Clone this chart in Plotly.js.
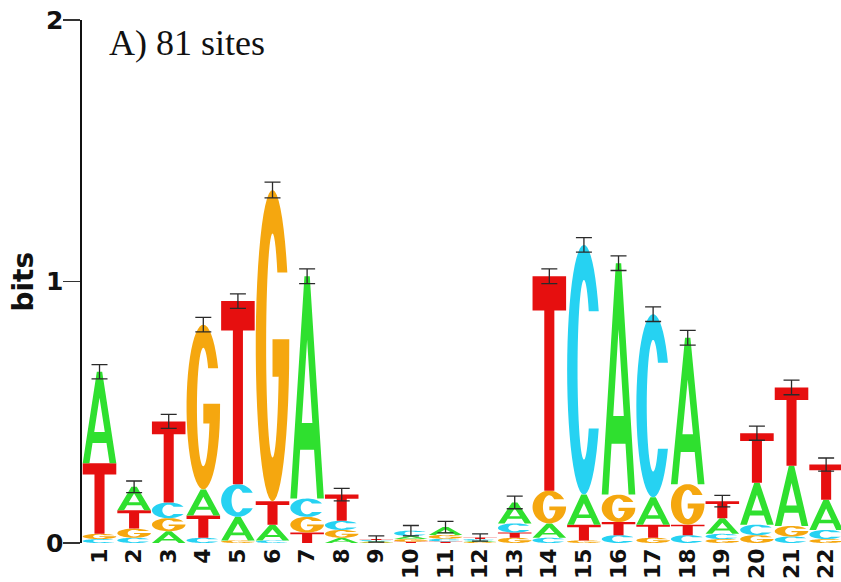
<!DOCTYPE html>
<html><head><meta charset="utf-8">
<script src="https://cdn.plot.ly/plotly-3.0.1.min.js"></script>
<style>html,body{margin:0;padding:0;background:#fff}#chart{width:841px;height:582px}</style>
</head><body><div id="chart"></div>
<script>
// ---- data (bits per letter at each position) ----
const positions = [1,2,3,4,5,6,7,8,9,10,11,12,13,14,15,16,17,18,19,20,21,22];
const tickLabels = ['1','2','3','4','5','6','7','8','9','10','11','12','13','14','15','16','17','18','19','20','21','22'];
const bitsA = [0.35,0.09,0.045,0.10,0.09,0.06,0.85,0.02,0.004,0.012,0.03,0.005,0.08,0.055,0.115,0.885,0.105,0.56,0.06,0.16,0.23,0.115];
const bitsC = [0.015,0.02,0.06,0.02,0.125,0.01,0.07,0.035,0.004,0.02,0.01,0.006,0.035,0.02,0.955,0.03,0.70,0.03,0.02,0.04,0.025,0.035];
const bitsG = [0.02,0.035,0.05,0.63,0.01,1.19,0.06,0.03,0.003,0.01,0.015,0.004,0.02,0.125,0.01,0.105,0.02,0.155,0.015,0.03,0.04,0.015];
const bitsT = [0.27,0.07,0.31,0.085,0.70,0.09,0.04,0.10,0.004,0.005,0.006,0.006,0.02,0.82,0.06,0.05,0.05,0.04,0.065,0.19,0.30,0.135];
const errBars = [0.027,0.022,0.027,0.028,0.028,0.03,0.028,0.024,0.012,0.02,0.022,0.014,0.024,0.028,0.028,0.028,0.028,0.028,0.022,0.027,0.028,0.025];
const yTicks = [0,1,2];
const yTickLabels = ['0','1','2'];
const titleText = 'A) 81 sites';
const yTitle = 'bits';

const colors = {A:'#2fe02f', C:'#26d2f2', G:'#f5a70f', T:'#e60f0f'};

// ---- glyph outlines in a unit box (u: 0..1 left->right, v: 0..1 bottom->top) ----
function arc(cx,cy,rx,ry,a0,a1,n){
  const pts=[];
  for(let i=0;i<=n;i++){
    const a=(a0+(a1-a0)*i/n)*Math.PI/180;
    pts.push([cx+rx*Math.cos(a), cy+ry*Math.sin(a)]);
  }
  return pts;
}
function glyph(l){
  const irx=0.19, iry=0.36, term=28;
  const phi=Math.asin(0.5*Math.sin(term*Math.PI/180)/iry)*180/Math.PI;
  if(l==='T') return [[[0,1],[1,1],[1,0.84],[0.65,0.84],[0.65,0],[0.35,0],[0.35,0.84],[0,0.84]]];
  if(l==='A'){
    const s=0.42, t=0.2, cb0=0.22, cb1=0.34;
    const outer=[[0,0],[s,1],[1-s,1],[1,0],[1-t,0],[1-t-s*cb0,cb0],[t+s*cb0,cb0],[t,0]];
    const apex=(1-2*t)/(2*s);
    const hole=[[1-t-s*cb1,cb1],[0.5,apex],[t+s*cb1,cb1]];
    return [outer,hole];
  }
  if(l==='C'){
    const outer=arc(0.5,0.5,0.5,0.5,term,360-term,48);
    const inner=arc(0.5,0.5,irx,iry,-phi,-(360-phi),48);
    return [outer.concat(inner)];
  }
  if(l==='G'){
    const outer=arc(0.5,0.5,0.5,0.5,term,352,48);
    const mid=[[1,0.52],[0.5,0.52],[0.5,0.40],[0.69,0.40]];
    const inner=arc(0.5,0.5,irx,iry,-16,-(360-phi),44);
    return [outer.concat(mid,inner)];
  }
}
function glyphPath(l,xc,y0,h,w){
  return glyph(l).map(sub=>'M'+sub.map(p=>(xc-w/2+p[0]*w).toFixed(4)+','+(y0+p[1]*h).toFixed(5)).join('L')+'Z').join(' ');
}

// ---- build stacked letters ----
const shapes=[];
const totals=[];
positions.forEach((pos,i)=>{
  const stack=[['A',bitsA[i]],['C',bitsC[i]],['G',bitsG[i]],['T',bitsT[i]]].sort((a,b)=>a[1]-b[1]);
  let y=0;
  stack.forEach(([l,h])=>{
    if(h>0){
      shapes.push({type:'path',xref:'x',yref:'y',path:glyphPath(l,pos,y,h,0.97),
        fillcolor:colors[l],line:{width:0},layer:'below',fillrule:'evenodd'});
    }
    y+=h;
  });
  totals.push(y);
});

const errTrace={
  type:'scatter',mode:'markers',x:positions,y:totals,
  marker:{size:1,color:'rgba(0,0,0,0)'},hoverinfo:'skip',
  error_y:{type:'data',array:errBars,symmetric:true,color:'#2a2a2a',thickness:1.3,width:8}
};

const layout={
  width:841,height:582,
  margin:{l:82,r:0,t:20,b:39},
  paper_bgcolor:'#ffffff',plot_bgcolor:'#ffffff',
  showlegend:false,
  xaxis:{range:[0.494,22.43],tickmode:'array',tickvals:positions,ticktext:tickLabels,tickangle:-90,
    tickfont:{family:'DejaVu Sans',size:22,weight:'bold',color:'#111'},
    showline:false,showgrid:false,zeroline:false,ticks:''},
  yaxis:{range:[0,2],tickmode:'array',tickvals:yTicks,ticktext:yTickLabels,
    ticks:'outside',ticklen:17,tickwidth:1.5,tickcolor:'#333',ticklabelstandoff:-6,
    showline:true,linewidth:2.5,linecolor:'#111',showgrid:false,zeroline:false,
    tickfont:{family:'DejaVu Sans',size:25,weight:'bold',color:'#111'}},
  shapes:shapes,
  annotations:[
    {text:titleText,xref:'paper',yref:'paper',x:0.033,y:0.998,xanchor:'left',yanchor:'top',showarrow:false,
     font:{family:'Liberation Serif, Times New Roman, serif',size:36,color:'#111'}},
    {text:yTitle,xref:'paper',yref:'y',x:-0.0777,y:1,xanchor:'center',yanchor:'middle',textangle:-90,showarrow:false,
     font:{family:'DejaVu Sans',size:28,weight:'bold',color:'#111'}}
  ]
};
Plotly.newPlot('chart',[errTrace],layout,{displayModeBar:false,staticPlot:true});
</script></body></html>
